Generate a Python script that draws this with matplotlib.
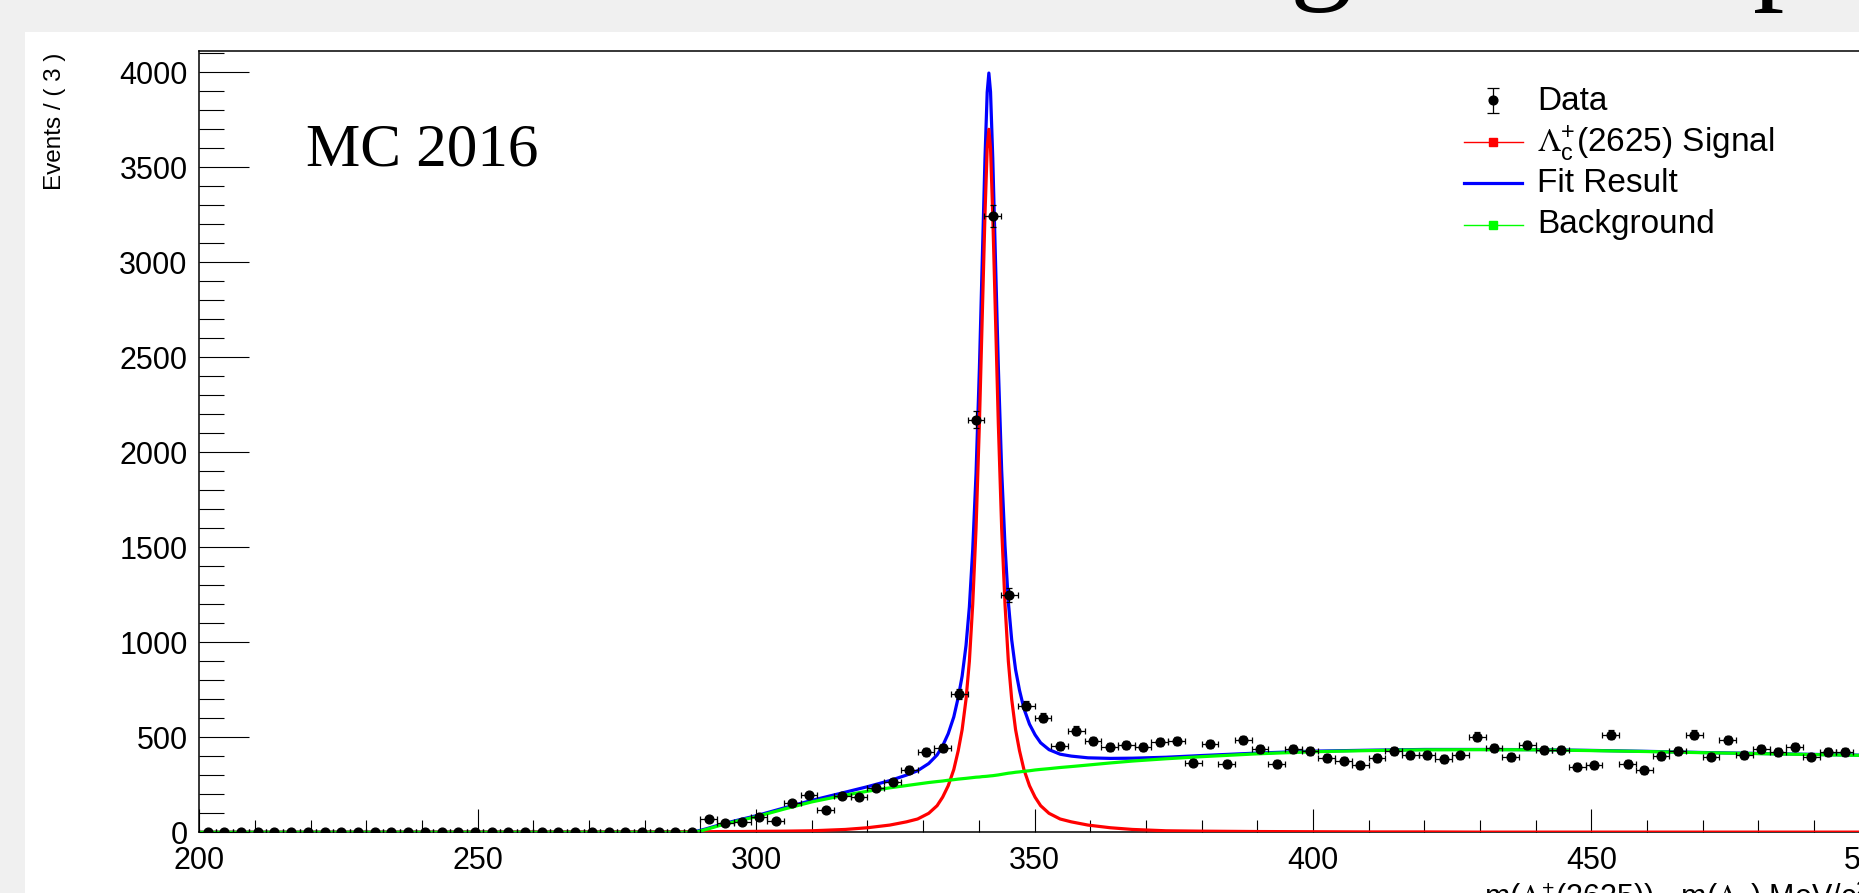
import numpy as np
import matplotlib
matplotlib.use('Agg')
import matplotlib.pyplot as plt
from matplotlib.patches import Rectangle
from matplotlib.ticker import MultipleLocator

plt.rcParams['font.family'] = ['Liberation Sans', 'DejaVu Sans']
plt.rcParams['mathtext.fontset'] = 'stix'

W, H = 1859, 893

# mass difference histogram, 3 MeV bins from 200
bin_lo = 200.0
bin_width = 3.0
counts = [0] * 29 + [
    2, 68, 51, 56, 79, 61, 153, 195, 116, 191,
    186, 235, 263, 330, 424, 445, 726, 2172, 3245, 1249,
    667, 603, 454, 535, 482, 447, 460, 451, 475, 482,
    366, 463, 360, 486, 437, 360, 437, 430, 390, 377,
    353, 391, 430, 405, 407, 386, 405, 503, 442, 396,
    458, 433, 433, 344, 353, 514, 360, 326, 400, 428,
    514, 398, 486, 407, 438, 424, 451, 398, 421, 421,
]

# fitted pdf components sampled on a common grid
curve_x = [200, 285, 289, 291, 294, 297, 300, 305, 310, 316,
           320, 324, 327, 329, 331, 332.5, 333.5, 334.5, 335.5, 336.3,
           337, 337.7, 338.3, 338.9, 339.5, 340.1, 340.6, 341.1, 341.5, 341.8,
           342.1, 342.5, 343.0, 343.5, 344.1, 344.7, 345.3, 345.9, 346.6, 347.3,
           348.1, 349.1, 350.1, 351.1, 352.6, 354.6, 356.6, 359.6, 363.6, 367.6,
           373.6, 380, 390, 400, 410, 420, 430, 440, 450, 460,
           470, 480, 490, 500, 510, 520]
signal = [0, 2, 3, 3, 4, 4, 5, 6, 8, 15,
          24, 38, 55, 70, 100, 140, 185, 245, 330, 430,
          540, 700, 900, 1200, 1600, 2150, 2700, 3250, 3600, 3700,
          3600, 3250, 2700, 2150, 1600, 1200, 900, 700, 540, 430,
          330, 245, 185, 140, 100, 70, 55, 38, 24, 15,
          8, 6, 4, 3, 2, 2, 1, 1, 1, 1,
          1, 1, 1, 1, 1, 1]
background = [0, 0, 0, 15, 40, 62, 82, 122, 160, 196,
              216, 234, 246, 254, 262, 267, 270, 274, 277, 280,
              282, 284, 286, 288, 290, 291, 293, 294, 295, 296,
              297, 298, 300, 302, 305, 308, 311, 313, 316, 318,
              321, 324, 328, 331, 335, 341, 346, 354, 365, 375,
              387, 398, 413, 424, 430, 434, 435, 434, 430, 425,
              419, 414, 409, 404, 400, 396]

lam_c = r'$\Lambda_{\mathregular{c}}^{\mathregular{+}}$'
legend_labels = ['Data', lam_c + '(2625) Signal', 'Fit Result', 'Background']
x_title = ('m(' + lam_c + '(2625)) - m($\\Lambda_{\\mathregular{c}}$) MeV/c$^{\\mathregular{2}}$')

counts = np.array(counts, dtype=float)
bin_centers = bin_lo + bin_width * (np.arange(len(counts)) + 0.5)
fit_total = np.array(signal) + np.array(background)

fig = plt.figure(figsize=(W / 100, H / 100), dpi=100, facecolor='#f0f0f0')

# slide background and white canvas
bg = fig.add_axes([0, 0, 1, 1], zorder=0)
bg.set_xlim(0, W)
bg.set_ylim(H, 0)
bg.axis('off')
bg.patch.set_visible(False)
bg.add_patch(Rectangle((25, 32), W, H, facecolor='white', edgecolor='none'))
# descenders of the slide heading above the canvas
bg.text(1321, -14, 'g', family='Liberation Serif', fontsize=90,
        ha='center', va='baseline', color='black')
bg.text(1784, -14, 'p', family='Liberation Serif', fontsize=90,
        ha='center', va='baseline', color='black')

ax = fig.add_axes([199.3 / W, (H - 832.3) / H, 1781.8 / W, 781.3 / H], zorder=1)
ax.set_facecolor('white')
ax.set_xlim(200, 520)
ax.set_ylim(0, 4112)

ax.plot(curve_x, fit_total, color='#0000ff', lw=2.3, zorder=2)
ax.plot(curve_x, signal, color='#ff0000', lw=2.3, zorder=3)
ax.plot(curve_x, background, color='#00ff00', lw=2.3, zorder=4)
ax.errorbar(bin_centers, counts, xerr=bin_width / 2, yerr=np.sqrt(counts),
            fmt='o', color='black', ms=6.3, elinewidth=0.9,
            capsize=2, capthick=0.9, zorder=5)

ax.xaxis.set_major_locator(MultipleLocator(50))
ax.xaxis.set_minor_locator(MultipleLocator(10))
ax.yaxis.set_major_locator(MultipleLocator(500))
ax.yaxis.set_minor_locator(MultipleLocator(100))
ax.tick_params(axis='x', which='major', direction='in', length=16.5, width=0.8,
               labelsize=22, pad=9.6, top=False)
ax.tick_params(axis='x', which='minor', direction='in', length=8.8, width=0.8, top=False)
ax.tick_params(axis='y', which='major', direction='in', length=36, width=0.8,
               labelsize=22, pad=8.4, right=False)
ax.tick_params(axis='y', which='minor', direction='in', length=18, width=0.8, right=False)
for s in ax.spines.values():
    s.set_linewidth(1.1)

# labels and legend in pixel coordinates
ov = fig.add_axes([0, 0, 1, 1], zorder=3)
ov.set_xlim(0, W)
ov.set_ylim(H, 0)
ov.axis('off')
ov.patch.set_visible(False)

ov.text(55, 53, 'Events / ( 3 )', rotation=90, ha='center', va='top', fontsize=17.5)
ov.text(1484, 878, x_title, ha='left', va='top', fontsize=22)
ov.text(306, 166, 'MC 2016', family='Liberation Serif', fontsize=44, va='baseline')

ov.errorbar([1493], [100], yerr=[[12], [13]], fmt='o', color='black', ms=6.3,
            elinewidth=0.9, capsize=4, capthick=0.9)
ov.plot([1464, 1523], [141.7, 141.7], color='#ff0000', lw=1)
ov.plot([1493], [141.7], marker='s', color='#ff0000', ms=5.5)
ov.plot([1464, 1522], [183.3, 183.3], color='#0000ff', lw=2.3)
ov.plot([1464, 1523], [225, 225], color='#00ff00', lw=1)
ov.plot([1493], [225], marker='s', color='#00ff00', ms=5.5)
for label, yb in zip(legend_labels, [110, 151.7, 192, 233.3]):
    ov.text(1537, yb, label, ha='left', va='baseline', fontsize=24)

fig.savefig('out.png', dpi=100, facecolor=fig.get_facecolor())
